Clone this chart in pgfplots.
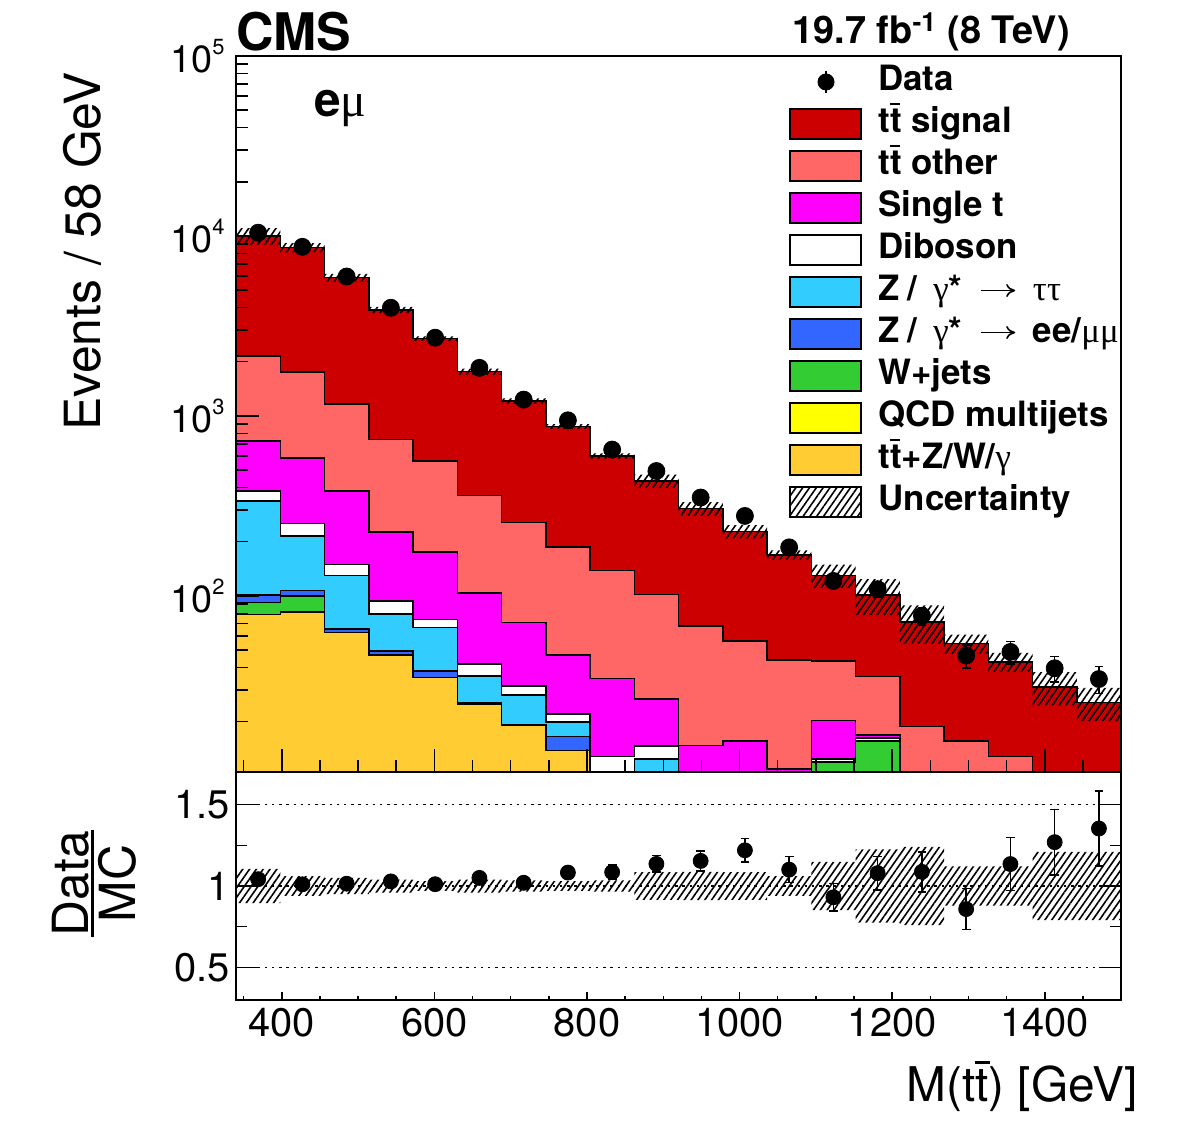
\documentclass[border=0pt]{standalone}
\usepackage{fontspec}
\setmainfont{TeX Gyre Heros}
\newfontfamily\grk{Liberation Serif}
\usepackage{pgfplots}
\usepackage{pgfplotstable}
\pgfplotsset{compat=1.18}
\usepgfplotslibrary{fillbetween}
\usetikzlibrary{patterns.meta,arrows.meta}
\pgfplotsset{/tikz/fill between/on layer=main}

\definecolor{cTTS}{RGB}{204,0,0}
\definecolor{cTTO}{RGB}{255,102,102}
\definecolor{cST}{RGB}{255,0,255}
\definecolor{cVV}{RGB}{255,255,255}
\definecolor{cZTT}{RGB}{51,204,255}
\definecolor{cZLL}{RGB}{51,102,255}
\definecolor{cWJ}{RGB}{51,204,51}
\definecolor{cQCD}{RGB}{255,255,0}
\definecolor{cTTV}{RGB}{255,204,51}

\tikzset{hatch/.style={pattern={Lines[angle=55,distance=2.8pt,line width=0.8pt]}, pattern color=black}}
\newcommand\tbar{\makebox[0pt][l]{\raisebox{0.80em}{\rule{0.3em}{0.055em}}}t}
\newcommand\decade[1]{10\raisebox{9bp}{\fontsize{11}{11}\selectfont #1}}
\newcommand\legfont{\fontsize{17.5}{17.5}\selectfont\bfseries}
\newcommand\gr[1]{{\grk\mdseries #1}}
\newcommand\arr{\tikz[baseline=-0.3em]\draw[-{To[length=4.5bp,width=6.5bp]}, line width=0.8bp] (0,0) -- (17bp,0);}

% e-mu channel, M(ttbar) in 58 GeV bins (lo = lower bin edge);
% last row repeats the final bin to close the step outline at 1500 GeV.
% unc = relative MC uncertainty, derr = statistical error on data
\pgfplotstableread{
lo    ttv  qcd wj   zll  ztt   vv   st    tto    tts    unc   data   derr
340   79   0   13   9.3  235.7 46   343   1428   7846   0.105 10420  102
398   81.5 0   18.5 7.4  107.6 37   330   1173   6855   0.060 8700   93.3
456   62.5 0   0    2.8  64.7  19   234   778    4705   0.050 5950   77.1
514   47   0   0    2.4  29.7  14.7 133.2 514    3139   0.040 3990   63.2
572   35.2 0   0    3.1  28.3  7.4  101   387    2128   0.030 2720   52.2
630   25   0   0    0.5  10.4  5.8  62.3  258    1400   0.040 1850   43.0
688   19   0   0    0.2  9.0   3.4  39.4  184    953    0.035 1232   35.1
746   13.8 0   0    2.7  3.4   2.1  25    140    686    0.030 945    30.7
804   6    0   0.5  1.0  2.5   2.8  22    103.2  461    0.035 650    25.5
862   5.5  0   0.5  0.5  5.9   2.2  12.1  75.3   333    0.085 494    22.2
920   4    0   0.5  0.5  3.0   1.5  5.2   53.3   237    0.087 352    18.8
978   3    0   0.5  0.3  2.0   1.5  8.3   40.6   171.8  0.085 278    16.7
1036  2.5  0   0.3  0.2  1.5   1.0  5.4   33.2   124.9  0.060 186    13.6
1094  2    0   9.9  0    0     0.5  7.9   23.2   86.5   0.148 121    11.0
1152  1.5  0   14.1 0    0     0.6  0.7   18.7   65.4   0.225 109    10.4
1210  1.2  0   0.3  0    0.5   0.5  4.0   12.3   52.6   0.240 77.6   8.8
1268  1.0  0   0    0    0.3   0.4  3.0   10.9   38.7   0.120 46.6   6.8
1326  0.8  0   0    0    0.2   0.3  2.5   9.0    30.2   0.120 48.8   7.0
1384  0.6  0   0    0    0.2   0.2  2.0   6.5    21.7   0.210 39.6   6.3
1442  0.5  0   0    0    0.1   0.2  1.7   5.5    17.5   0.210 34.5   5.9
1500  0.5  0   0    0    0.1   0.2  1.7   5.5    17.5   0.210 34.5   5.9
}\hist
% cumulative stack, bottom to top
\pgfplotstablecreatecol[expr={\thisrow{ttv}+\thisrow{qcd}}]{cqcd}{\hist}
\pgfplotstablecreatecol[expr={\thisrow{cqcd}+\thisrow{wj}}]{cwj}{\hist}
\pgfplotstablecreatecol[expr={\thisrow{cwj}+\thisrow{zll}}]{czll}{\hist}
\pgfplotstablecreatecol[expr={\thisrow{czll}+\thisrow{ztt}}]{cztt}{\hist}
\pgfplotstablecreatecol[expr={\thisrow{cztt}+\thisrow{vv}}]{cvv}{\hist}
\pgfplotstablecreatecol[expr={\thisrow{cvv}+\thisrow{st}}]{cst}{\hist}
\pgfplotstablecreatecol[expr={\thisrow{cst}+\thisrow{tto}}]{ctto}{\hist}
\pgfplotstablecreatecol[expr={\thisrow{ctto}+\thisrow{tts}}]{mc}{\hist}

\pgfplotsset{
  hist/.style={const plot mark left, draw=black, line width=0.75bp},
  every tick/.style={black, line width=0.75bp},
  axis line style={line width=1bp},
}

\begin{document}
\begin{tikzpicture}
\begin{scope}[x=0.5bp,y=-0.5bp,yshift=569bp]
\path[use as bounding box] (0,0) rectangle (1182,1138);
\end{scope}

% ---------- upper panel: event yields ----------
\begin{axis}[
  set layers,
  at={(118bp,183bp)}, anchor=south west,
  scale only axis, width=442.5bp, height=358bp,
  xmin=340, xmax=1500,
  ymode=log, ymin=10.5, ymax=1e5,
  axis on top,
  xtick={400,600,800,1000,1200,1400}, xticklabels={},
  minor xtick={350,450,500,550,650,700,750,850,900,950,1050,1100,1150,1250,1300,1350,1450},
  xtick pos=bottom, ytick pos=left,
  ytick={100,1000,10000,100000},
  yticklabels={\decade{2},\decade{3},\decade{4},\decade{5}},
  minor ytick={20,30,40,50,60,70,80,90,200,300,400,500,600,700,800,900,2000,3000,4000,5000,6000,7000,8000,9000,20000,30000,40000,50000,60000,70000,80000,90000},
  yticklabel style={font=\fontsize{19}{19}\selectfont, inner sep=0pt, xshift=-5.5bp},
  major tick length=11.5bp, minor tick length=6bp,
]
\addplot[hist, fill=cTTS] table[x=lo, y=mc]{\hist} \closedcycle;
\addplot[hist, fill=cTTO] table[x=lo, y=ctto]{\hist} \closedcycle;
\addplot[hist, fill=cST] table[x=lo, y=cst]{\hist} \closedcycle;
\addplot[hist, fill=cVV] table[x=lo, y=cvv]{\hist} \closedcycle;
\addplot[hist, fill=cZTT] table[x=lo, y=cztt]{\hist} \closedcycle;
\addplot[hist, fill=cZLL] table[x=lo, y=czll]{\hist} \closedcycle;
\addplot[hist, fill=cWJ] table[x=lo, y=cwj]{\hist} \closedcycle;
\addplot[hist, fill=cQCD] table[x=lo, y=cqcd]{\hist} \closedcycle;
\addplot[hist, fill=cTTV] table[x=lo, y=ttv]{\hist} \closedcycle;
% MC uncertainty band
\addplot[const plot mark left, draw=none, name path=up] table[x=lo, y expr=\thisrow{mc}*(1+\thisrow{unc})]{\hist};
\addplot[const plot mark left, draw=none, name path=dn] table[x=lo, y expr=\thisrow{mc}*(1-\thisrow{unc})]{\hist};
\addplot[hatch, draw=none] fill between[of=up and dn];
% data
\addplot[only marks, mark=*, mark size=4.25bp, black, mark options={fill=black},
  restrict x to domain=340:1490,
  error bars/.cd, y dir=both, y explicit,
  error bar style={line width=0.75bp},
  error mark options={rotate=90, mark size=2.2bp, line width=0.75bp}]
  table[x expr=\thisrow{lo}+29, y=data, y error=derr]{\hist};
\end{axis}

% ---------- lower panel: Data/MC ----------
\begin{axis}[
  set layers,
  at={(118bp,69bp)}, anchor=south west,
  scale only axis, width=442.5bp, height=114bp,
  xmin=340, xmax=1500, ymin=0.3, ymax=1.7,
  axis on top,
  xtick={400,600,800,1000,1200,1400},
  xticklabels={400,600,800,1000,1200,1400},
  minor xtick={350,450,500,550,650,700,750,850,900,950,1050,1100,1150,1250,1300,1350,1450},
  xtick pos=bottom, ytick pos=both,
  ytick={0.5,1,1.5}, yticklabels={0.5,1,1.5}, minor ytick={0.75,1.25},
  xticklabel style={font=\fontsize{20}{20}\selectfont, inner sep=0pt, yshift=-4bp},
  yticklabel style={font=\fontsize{20}{20}\selectfont, inner sep=0pt, xshift=-3bp},
  major tick length=11bp, minor tick length=5.5bp,
  xtick style={/pgfplots/major tick length=4bp, /pgfplots/minor tick length=2bp},
]
\addplot[black, line width=0.75bp, dash pattern=on 1.2bp off 2.4bp] coordinates {(340,0.5) (1500,0.5)};
\addplot[black, line width=0.75bp, dash pattern=on 1.2bp off 2.4bp] coordinates {(340,1) (1500,1)};
\addplot[black, line width=0.75bp, dash pattern=on 1.2bp off 2.4bp] coordinates {(340,1.5) (1500,1.5)};
\addplot[const plot mark left, draw=none, name path=rup] table[x=lo, y expr=1+\thisrow{unc}]{\hist};
\addplot[const plot mark left, draw=none, name path=rdn] table[x=lo, y expr=1-\thisrow{unc}]{\hist};
\addplot[hatch, draw=none] fill between[of=rup and rdn];
\addplot[only marks, mark=*, mark size=3.75bp, black, mark options={fill=black},
  restrict x to domain=340:1490,
  error bars/.cd, y dir=both, y explicit,
  error bar style={line width=0.75bp},
  error mark options={rotate=90, mark size=2.2bp, line width=0.75bp}]
  table[x expr=\thisrow{lo}+29, y expr=\thisrow{data}/\thisrow{mc}, y error expr=\thisrow{derr}/\thisrow{mc}]{\hist};
\end{axis}

% ---------- titles, labels, legend ----------
\begin{scope}[x=0.5bp,y=-0.5bp,yshift=569bp]
\node[anchor=base west, inner sep=0, font=\fontsize{26}{26}\selectfont\bfseries] at (236,50.5) {CMS};
\node[anchor=base east, inner sep=0, font=\fontsize{19}{19}\selectfont\bfseries] at (1070,44) {19.7 fb\textsuperscript{-1} (8 TeV)};
\node[anchor=base west, inner sep=0, font=\fontsize{24}{24}\selectfont] at (314,117) {\bfseries e\gr{μ}};
\node[rotate=90, anchor=base, inner sep=0, font=\fontsize{25}{25}\selectfont] at (100,251.5) {Events / 58 GeV};
\node[rotate=90, anchor=base, inner sep=0, font=\fontsize{25}{25}\selectfont] at (88,883.5) {Data};
\draw[line width=1.5bp] (92.5,830) -- (92.5,937);
\node[rotate=90, anchor=north, inner sep=0, font=\fontsize{25}{25}\selectfont] at (98,883.5) {MC};
\node[anchor=base east, inner sep=0, font=\fontsize{24}{24}\selectfont] at (1138,1102) {M(t\tbar) [GeV]};

% legend
\draw[line width=0.75bp] (826,71) -- (826,93);
\fill (826,82) circle (4.25bp);
\node[anchor=base west, inner sep=0, font=\legfont] at (878,91) {Data};
\newcommand\legbox[3]{%
  \filldraw[fill=#2, draw=black, line width=0.75bp] (790,#1-15) rectangle (861,#1+15);
  \node[anchor=base west, inner sep=0, font=\legfont] at (878,#1+9) {#3};}
\legbox{124}{cTTS}{t\tbar\ signal}
\legbox{166}{cTTO}{t\tbar\ other}
\legbox{208}{cST}{Single t}
\legbox{250}{cVV}{Diboson}
\legbox{292}{cZTT}{Z\hspace{4bp}/\hspace{8bp}\gr{γ}*\hspace{9bp}\arr\hspace{8.5bp}\gr{ττ}}
\legbox{334}{cZLL}{Z\hspace{4bp}/\hspace{8bp}\gr{γ}*\hspace{9bp}\arr\hspace{8.5bp}ee/\gr{μμ}}
\legbox{376}{cWJ}{W+jets}
\legbox{418}{cQCD}{QCD multijets}
\legbox{460}{cTTV}{t\tbar+Z/W/\gr{γ}}
\draw[hatch, line width=0.75bp] (790,487) rectangle (861,517);
\node[anchor=base west, inner sep=0, font=\legfont] at (878,511) {Uncertainty};
\end{scope}
\end{tikzpicture}
\end{document}
